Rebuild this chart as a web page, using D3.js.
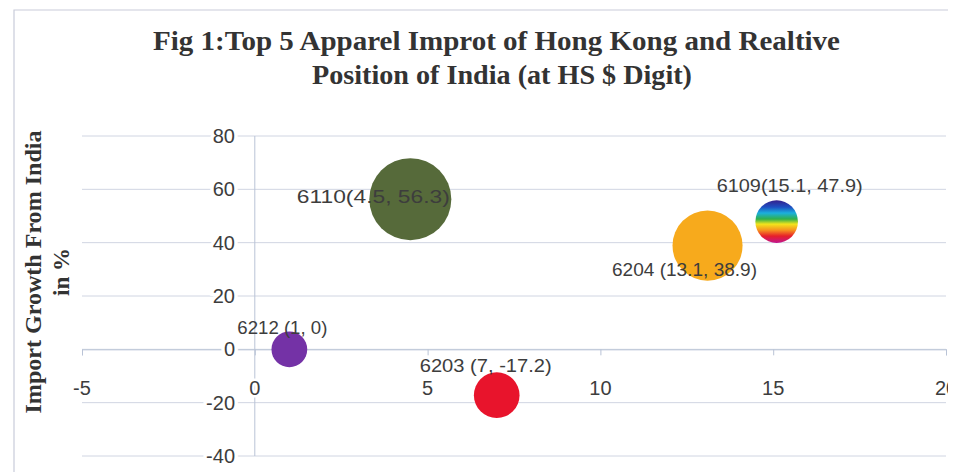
<!DOCTYPE html>
<html>
<head>
<meta charset="utf-8">
<script src="https://cdn.jsdelivr.net/npm/d3@7"></script>
<style>
  html, body { margin: 0; padding: 0; background: #fff; }
  #chart { width: 958px; height: 472px; }
</style>
</head>
<body>
<div id="chart"></div>
<script>
// Data
const codes = ['6212', '6110', '6203', '6204', '6109'];
const xValues = [1, 4.5, 7, 13.1, 15.1];
const yValues = [0, 56.3, -17.2, 38.9, 47.9];
const sizes = [19, 100, 31, 73, 27];
const labels = ['6212 (1, 0)', '6110(4.5, 56.3)', '6203 (7, -17.2)', '6204 (13.1, 38.9)', '6109(15.1, 47.9)'];
const xTicks = [-5, 0, 5, 10, 15, 20];
const yTicks = [-40, -20, 0, 20, 40, 60, 80];

// layout: label offsets from bubble centre and target widths
const labelLayout = {
  '6212': { dx: -7, dy: -22, w: 90 },
  '6110': { dx: -37, dy: -3, w: 153 },
  '6203': { dx: -11, dy: -30, w: 132 },
  '6204': { dx: -23, dy: 24, w: 145 },
  '6109': { dx: 13, dy: -36, w: 146 }
};
const fills = {
  '6212': '#7432a6',
  '6110': '#566a3a',
  '6203': '#e8142c',
  '6204': '#f7aa1c',
  '6109': 'url(#rainbow)'
};

const width = 958, height = 472;
const textColor = '#3d3d3d';
const gridColor = '#d0d5e2';
const axisColor = '#b9c3d6';

const svg = d3.select('#chart').append('svg')
  .attr('width', width)
  .attr('height', height);

const defs = svg.append('defs');
defs.append('clipPath').attr('id', 'pageClip')
  .append('rect').attr('x', 0).attr('y', 0).attr('width', 948).attr('height', height);

// rainbow fill for 6109
const grad = defs.append('linearGradient')
  .attr('id', 'rainbow')
  .attr('x1', 0).attr('y1', 0).attr('x2', 0).attr('y2', 1);
[
  [0, '#35208c'], [0.16, '#1d4fc2'], [0.3, '#1bb0dc'], [0.44, '#2fb04a'],
  [0.56, '#f3e41c'], [0.7, '#f7931e'], [0.84, '#e61f2a'], [1, '#c2168e']
].forEach(([o, c]) => grad.append('stop').attr('offset', o).attr('stop-color', c));

const root = svg.append('g').attr('clip-path', 'url(#pageClip)');

// chart area border (left + top, rest is cropped)
root.append('path')
  .attr('d', `M14,${height} L14,10 L${width},10`)
  .attr('fill', 'none')
  .attr('stroke', '#c9ccda')
  .attr('stroke-width', 1.2);

const x = d3.scaleLinear().domain([-5, 20]).range([82, 946]);
const y = d3.scaleLinear().domain([-40, 80]).range([456, 136]);
const r = d3.scaleSqrt().domain([0, d3.max(sizes)]).range([0, 41]);

// ✅ Gridlines
root.append('g')
  .selectAll('line')
  .data(yTicks)
  .join('line')
  .attr('x1', x(-5)).attr('x2', x(20))
  .attr('y1', d => y(d)).attr('y2', d => y(d))
  .attr('stroke', gridColor)
  .attr('stroke-width', 1);

// ✅ Axes crossing at zero
root.append('line')
  .attr('x1', x(0)).attr('x2', x(0))
  .attr('y1', y(80)).attr('y2', y(-40))
  .attr('stroke', axisColor);

const xAxis = d3.axisBottom(x).tickValues(xTicks).tickSize(6).tickFormat('');
const xAxisG = root.append('g')
  .attr('transform', `translate(0,${y(0)})`)
  .call(xAxis);
xAxisG.select('.domain').attr('stroke', axisColor);
xAxisG.selectAll('.tick line').attr('stroke', axisColor);

// tick labels
root.append('g')
  .selectAll('text')
  .data(xTicks)
  .join('text')
  .attr('x', d => x(d))
  .attr('y', y(0) + 39)
  .attr('dy', '0.35em')
  .attr('text-anchor', 'middle')
  .attr('font-family', 'Liberation Sans, Arial, sans-serif')
  .attr('font-size', 20)
  .attr('fill', textColor)
  .attr('stroke', '#fff')
  .attr('stroke-width', 5)
  .attr('paint-order', 'stroke')
  .text(d => d);

root.append('g')
  .selectAll('text')
  .data(yTicks)
  .join('text')
  .attr('x', 235)
  .attr('y', d => y(d))
  .attr('dy', '0.35em')
  .attr('text-anchor', 'end')
  .attr('font-family', 'Liberation Sans, Arial, sans-serif')
  .attr('font-size', 20)
  .attr('fill', textColor)
  .attr('stroke', '#fff')
  .attr('stroke-width', 7)
  .attr('paint-order', 'stroke')
  .text(d => d);

// ✅ Bubbles
const points = codes.map((c, i) => ({
  code: c, x: xValues[i], y: yValues[i], size: sizes[i], label: labels[i]
}));

root.append('g')
  .selectAll('circle')
  .data(points)
  .join('circle')
  .attr('cx', d => x(d.x))
  .attr('cy', d => y(d.y))
  .attr('r', d => r(d.size))
  .attr('fill', d => fills[d.code]);

// ✅ Data labels
root.append('g')
  .selectAll('text')
  .data(points)
  .join('text')
  .attr('x', d => x(d.x) + labelLayout[d.code].dx)
  .attr('y', d => y(d.y) + labelLayout[d.code].dy)
  .attr('dy', '0.35em')
  .attr('text-anchor', 'middle')
  .attr('font-family', 'Liberation Sans, Arial, sans-serif')
  .attr('font-size', 18)
  .attr('fill', textColor)
  .attr('textLength', d => labelLayout[d.code].w)
  .attr('lengthAdjust', 'spacingAndGlyphs')
  .text(d => d.label);

// ✅ Title
const titleFont = 'Liberation Serif, DejaVu Serif, serif';
const title = root.append('g')
  .attr('font-family', titleFont)
  .attr('font-weight', 'bold')
  .attr('fill', '#333')
  .attr('text-anchor', 'middle');
title.append('text')
  .attr('x', 496.5).attr('y', 50)
  .attr('font-size', 28)
  .attr('textLength', 687)
  .attr('lengthAdjust', 'spacingAndGlyphs')
  .text('Fig 1:Top 5 Apparel  Improt of Hong Kong and Realtive');
title.append('text')
  .attr('x', 502).attr('y', 84)
  .attr('font-size', 28)
  .attr('textLength', 380)
  .attr('lengthAdjust', 'spacingAndGlyphs')
  .text('Position of India (at HS $ Digit)');

// ✅ Y axis title (two lines, rotated)
const yTitle = root.append('g')
  .attr('font-family', titleFont)
  .attr('font-weight', 'bold')
  .attr('font-size', 23)
  .attr('fill', '#333')
  .attr('text-anchor', 'middle');
yTitle.append('text')
  .attr('transform', 'translate(41,272) rotate(-90)')
  .attr('textLength', 283)
  .attr('lengthAdjust', 'spacingAndGlyphs')
  .text('Import  Growth From India');
yTitle.append('text')
  .attr('transform', 'translate(69,272) rotate(-90)')
  .text('in %');
</script>
</body>
</html>
